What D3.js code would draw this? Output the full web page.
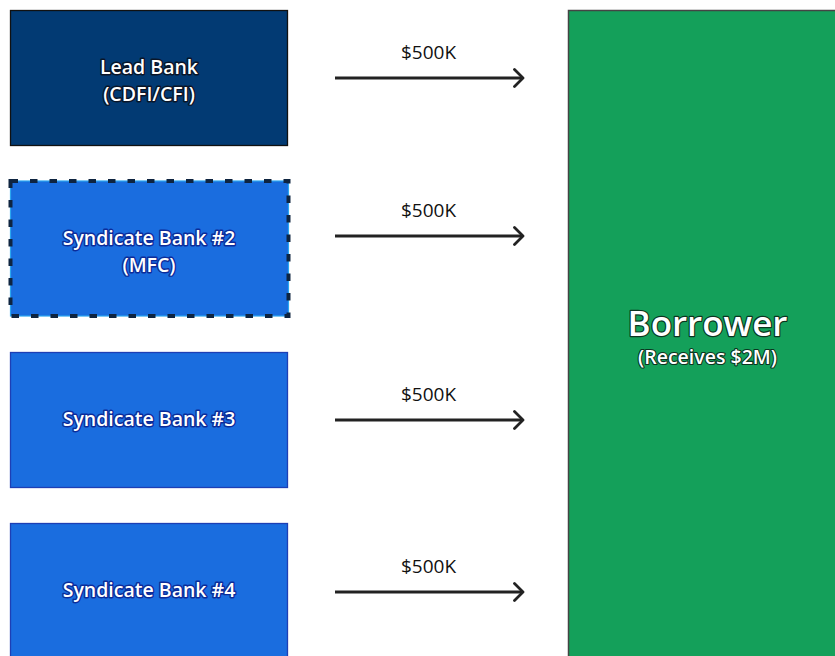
<!DOCTYPE html>
<html>
<head>
<meta charset="utf-8">
<script src="https://cdn.jsdelivr.net/npm/d3@7"></script>
<style>
  html, body { margin: 0; padding: 0; background: #fff; overflow: hidden; }
  svg { display: block; }
  text { font-family: "Open Sans", "Noto Sans", sans-serif; }
</style>
</head>
<body>
<svg id="chart" width="835" height="656"></svg>
<script>
// ---- data ----
const banks = ["Lead Bank", "Syndicate Bank #2", "Syndicate Bank #3", "Syndicate Bank #4"];
const bankSubLabels = ["(CDFI/CFI)", "(MFC)", "", ""];
const bankRoles = ["lead", "mfc", "syndicate", "syndicate"];
const contributions = [500, 500, 500, 500]; // $K
const borrowerLabel = "Borrower";
const borrowerTotal = d3.sum(contributions); // $K

const fmtK = v => "$" + v + "K";
const fmtM = v => "$" + (v / 1000) + "M";

// ---- layout ----
const svg = d3.select("#chart");
const W = 835, H = 656;

const y = d3.scaleBand().domain(banks).range([10, 658]).paddingInner(36 / 171).paddingOuter(0);

const boxX0 = 10.5, boxX1 = 287.5;
const arrowX0 = 335, arrowX1 = 523;
const borrowerX0 = 568.5, borrowerX1 = 846;
const arrowShift = [0.5, -12.5, 0.5, 1.5];

const fillFor = r => r === "lead" ? "#023a73" : "#1a6ddf";
const strokeFor = r => r === "lead" ? "#111" : "#1d3fb5";
const haloFor = r => r === "lead" ? "#0a1528" : "#0b2c9a";

const defs = svg.append("defs");
defs.append("marker")
  .attr("id", "chev")
  .attr("viewBox", "0 0 12 20")
  .attr("refX", 10).attr("refY", 10)
  .attr("markerWidth", 12).attr("markerHeight", 20)
  .attr("markerUnits", "userSpaceOnUse")
  .attr("orient", "auto")
  .append("path")
  .attr("d", "M1.5,1.5 L10,10 L1.5,18.5")
  .attr("fill", "none")
  .attr("stroke", "#222")
  .attr("stroke-width", 2.8)
  .attr("stroke-linecap", "round")
  .attr("stroke-linejoin", "round");

// borrower
const bTop = y.range()[0], bBot = y.range()[1];
svg.append("rect")
  .attr("x", borrowerX0).attr("y", bTop + 0.5)
  .attr("width", borrowerX1 - borrowerX0).attr("height", bBot - bTop)
  .attr("fill", "#14a05a")
  .attr("stroke", "#444").attr("stroke-width", 1.5);

const bCx = 707.5;
const bCy = (bTop + bBot) / 2;
svg.append("text")
  .attr("x", bCx).attr("y", bCy + 1.5)
  .attr("text-anchor", "middle")
  .attr("font-size", 35).attr("font-weight", 600)
  .attr("fill", "#fff")
  .attr("stroke", "#0b3520").attr("stroke-width", 2.4).attr("paint-order", "stroke")
  .attr("stroke-linejoin", "round")
  .text(borrowerLabel);
svg.append("text")
  .attr("x", bCx).attr("y", bCy + 30)
  .attr("text-anchor", "middle")
  .attr("font-size", 19.5).attr("font-weight", 600)
  .attr("fill", "#fff")
  .attr("stroke", "#0b3520").attr("stroke-width", 2.2).attr("paint-order", "stroke")
  .attr("stroke-linejoin", "round")
  .text("(Receives " + fmtM(borrowerTotal) + ")");

// bank boxes
const g = svg.selectAll("g.bank").data(banks).join("g").attr("class", "bank");

g.each(function(d, i) {
  const sel = d3.select(this);
  const role = bankRoles[i];
  const top = y(d), h = y.bandwidth();
  if (role === "mfc") {
    sel.append("rect")
      .attr("x", boxX0).attr("y", top)
      .attr("width", boxX1 - boxX0 + 1).attr("height", h)
      .attr("fill", fillFor(role))
      .attr("stroke", "#2aa6f0").attr("stroke-width", 1.2);
    sel.append("rect")
      .attr("x", boxX0).attr("y", top)
      .attr("width", boxX1 - boxX0 + 1).attr("height", h)
      .attr("fill", "none")
      .attr("stroke", "#0e2440").attr("stroke-width", 4)
      .attr("stroke-dasharray", "7.5,12");
  } else {
    sel.append("rect")
      .attr("x", boxX0).attr("y", top + 0.5)
      .attr("width", boxX1 - boxX0).attr("height", h)
      .attr("fill", fillFor(role))
      .attr("stroke", strokeFor(role)).attr("stroke-width", 1.3);
  }
  const cx = (boxX0 + boxX1) / 2;
  const cy = top + h / 2;
  const lines = bankSubLabels[i] ? [d, bankSubLabels[i]] : [d];
  const lh = 27;
  const shift = lines.length > 1 ? 3 : 0;
  lines.forEach((t, k) => {
    sel.append("text")
      .attr("x", cx).attr("y", cy + shift + (k - (lines.length - 1) / 2) * lh)
      .attr("dy", "0.35em")
      .attr("text-anchor", "middle")
      .attr("font-size", 19.5).attr("font-weight", 600)
      .attr("fill", "#fff")
      .attr("stroke", haloFor(role)).attr("stroke-width", 2.8)
      .attr("stroke-linejoin", "round")
      .attr("paint-order", "stroke")
      .text(t);
  });

  // arrow
  const ay = cy + arrowShift[i];
  sel.append("line")
    .attr("x1", arrowX0).attr("x2", arrowX1)
    .attr("y1", ay).attr("y2", ay)
    .attr("stroke", "#222").attr("stroke-width", 2.8)
    .attr("marker-end", "url(#chev)");
  sel.append("text")
    .attr("x", (arrowX0 + arrowX1) / 2 - 0.5).attr("y", ay - 19)
    .attr("text-anchor", "middle")
    .attr("font-size", 19)
    .attr("fill", "#111")
    .text(fmtK(contributions[i]));
});
</script>
</body>
</html>
